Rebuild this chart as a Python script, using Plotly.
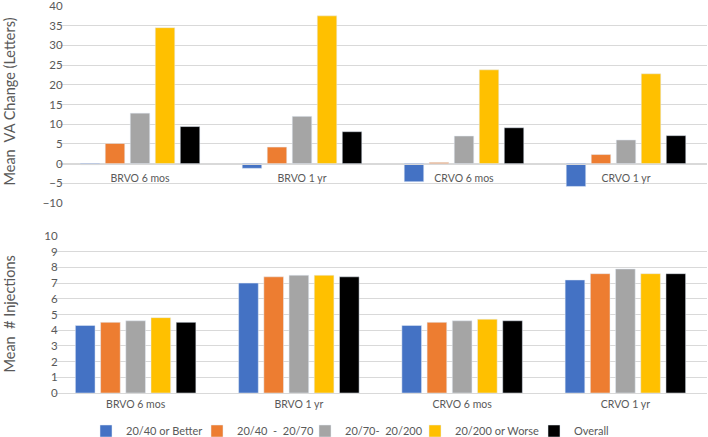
import plotly.graph_objects as go

categories = ["BRVO 6 mos", "BRVO 1 yr", "CRVO 6 mos", "CRVO 1 yr"]
series_names = ["20/40 or Better", "20/40\u00a0 -\u00a0 20/70", "20/70-\u00a0 20/200", "20/200 or Worse", "Overall"]
colors = ["#4472C4", "#ED7D31", "#A5A5A5", "#FFC000", "#000000"]

# Mean VA change (letters)
va_better = [-0.3, -1.2, -4.6, -5.8]
va_40_70 = [5.1, 4.2, 0.3, 2.3]
va_70_200 = [12.8, 12.0, 7.0, 6.0]
va_worse = [34.5, 37.5, 23.8, 22.8]
va_overall = [9.4, 8.1, 9.1, 7.1]

# Mean number of injections
inj_better = [4.3, 7.0, 4.3, 7.2]
inj_40_70 = [4.5, 7.4, 4.5, 7.6]
inj_70_200 = [4.6, 7.5, 4.6, 7.9]
inj_worse = [4.8, 7.5, 4.7, 7.6]
inj_overall = [4.5, 7.4, 4.6, 7.6]

va_series = [va_better, va_40_70, va_70_200, va_worse, va_overall]
inj_series = [inj_better, inj_40_70, inj_70_200, inj_worse, inj_overall]

FONT = "Lato"
TXT = "#595959"
GRID = "#D9D9D9"
CLEAR = "rgba(0,0,0,0)"

legend_ids = ["legend", "legend2", "legend3", "legend4", "legend5"]
legend_text_px = [126, 237, 345, 455, 574]   # where each legend text starts (pixels)

fig = go.Figure()
for name, col, vals, lid in zip(series_names, colors, va_series, legend_ids):
    fig.add_trace(go.Bar(x=categories, y=vals, name=name, marker_color=col,
                         legendgroup=name, showlegend=True, legend=lid, xaxis="x", yaxis="y"))
for name, col, vals in zip(series_names, colors, inj_series):
    fig.add_trace(go.Bar(x=categories, y=vals, name=name, marker_color=col,
                         legendgroup=name, showlegend=False, xaxis="x2", yaxis="y2"))

H = 437
T, B = 0, 0
ph = H - T - B
def py(pix):
    return (H - B - pix) / ph

top_dom = [py(203), py(6)]
bot_dom = [py(393), py(236)]
zero_top = py(6 + (203 - 6) * 40 / 50)

L, R = 54, 1
pw = 708 - L - R
def px(pix):
    return (pix - L) / pw
x_top_dom = [px(59), 1]

LEG_OFF = 40
legends = {}
for lid, tx in zip(legend_ids, legend_text_px):
    legends[lid] = dict(orientation="h", x=px(tx - LEG_OFF), xanchor="left", y=py(431), yanchor="middle",
                        font=dict(size=11, color=TXT), itemwidth=30, bgcolor=CLEAR)

tick_common = dict(ticks="outside", ticklen=1, tickcolor=CLEAR)

fig.update_layout(
    width=708, height=437,
    margin=dict(l=L, r=R, t=T, b=B, autoexpand=False),
    paper_bgcolor="white", plot_bgcolor="white",
    barmode="group", bargap=0.228, bargroupgap=0.22,
    font=dict(family=FONT, color=TXT, size=11),
    xaxis=dict(domain=x_top_dom, anchor="free", position=zero_top, automargin=False,
               showline=True, linecolor=GRID, linewidth=1, showgrid=False,
               ticklabelstandoff=4, tickfont=dict(size=10.5, color=TXT), zeroline=False, **tick_common),
    yaxis=dict(domain=top_dom, range=[-10, 40], dtick=5, anchor="x", automargin=False,
               showgrid=True, gridcolor=GRID, gridwidth=1, zeroline=False,
               ticklabeloverflow="allow",
               ticklabelstandoff=-8, tickfont=dict(size=11.5, color=TXT), **tick_common),
    xaxis2=dict(domain=[0, 1], anchor="y2", automargin=False,
                showline=True, linecolor=GRID, linewidth=1, showgrid=False,
                ticklabelstandoff=0, tickfont=dict(size=10.5, color=TXT), zeroline=False, **tick_common),
    yaxis2=dict(domain=bot_dom, range=[0, 10], dtick=1, anchor="x2", automargin=False,
                showgrid=True, gridcolor=GRID, gridwidth=1, zeroline=False,
                ticklabelstandoff=-8, tickfont=dict(size=11.5, color=TXT), **tick_common),
    annotations=[
        dict(text="Mean\u00a0 VA Change (Letters)", xref="paper", yref="paper",
             x=px(8.5), y=py(102), xanchor="center", yanchor="middle",
             textangle=-90, showarrow=False, font=dict(size=14.5, color=TXT, family=FONT)),
        dict(text="Mean\u00a0 # Injections", xref="paper", yref="paper",
             x=px(8.5), y=py(314), xanchor="center", yanchor="middle",
             textangle=-90, showarrow=False, font=dict(size=14.5, color=TXT, family=FONT)),
    ],
    **legends,
)

fig.write_html("out.html", config={"displayModeBar": False},
               post_script="document.body.style.margin='0';document.body.style.overflow='hidden';")
